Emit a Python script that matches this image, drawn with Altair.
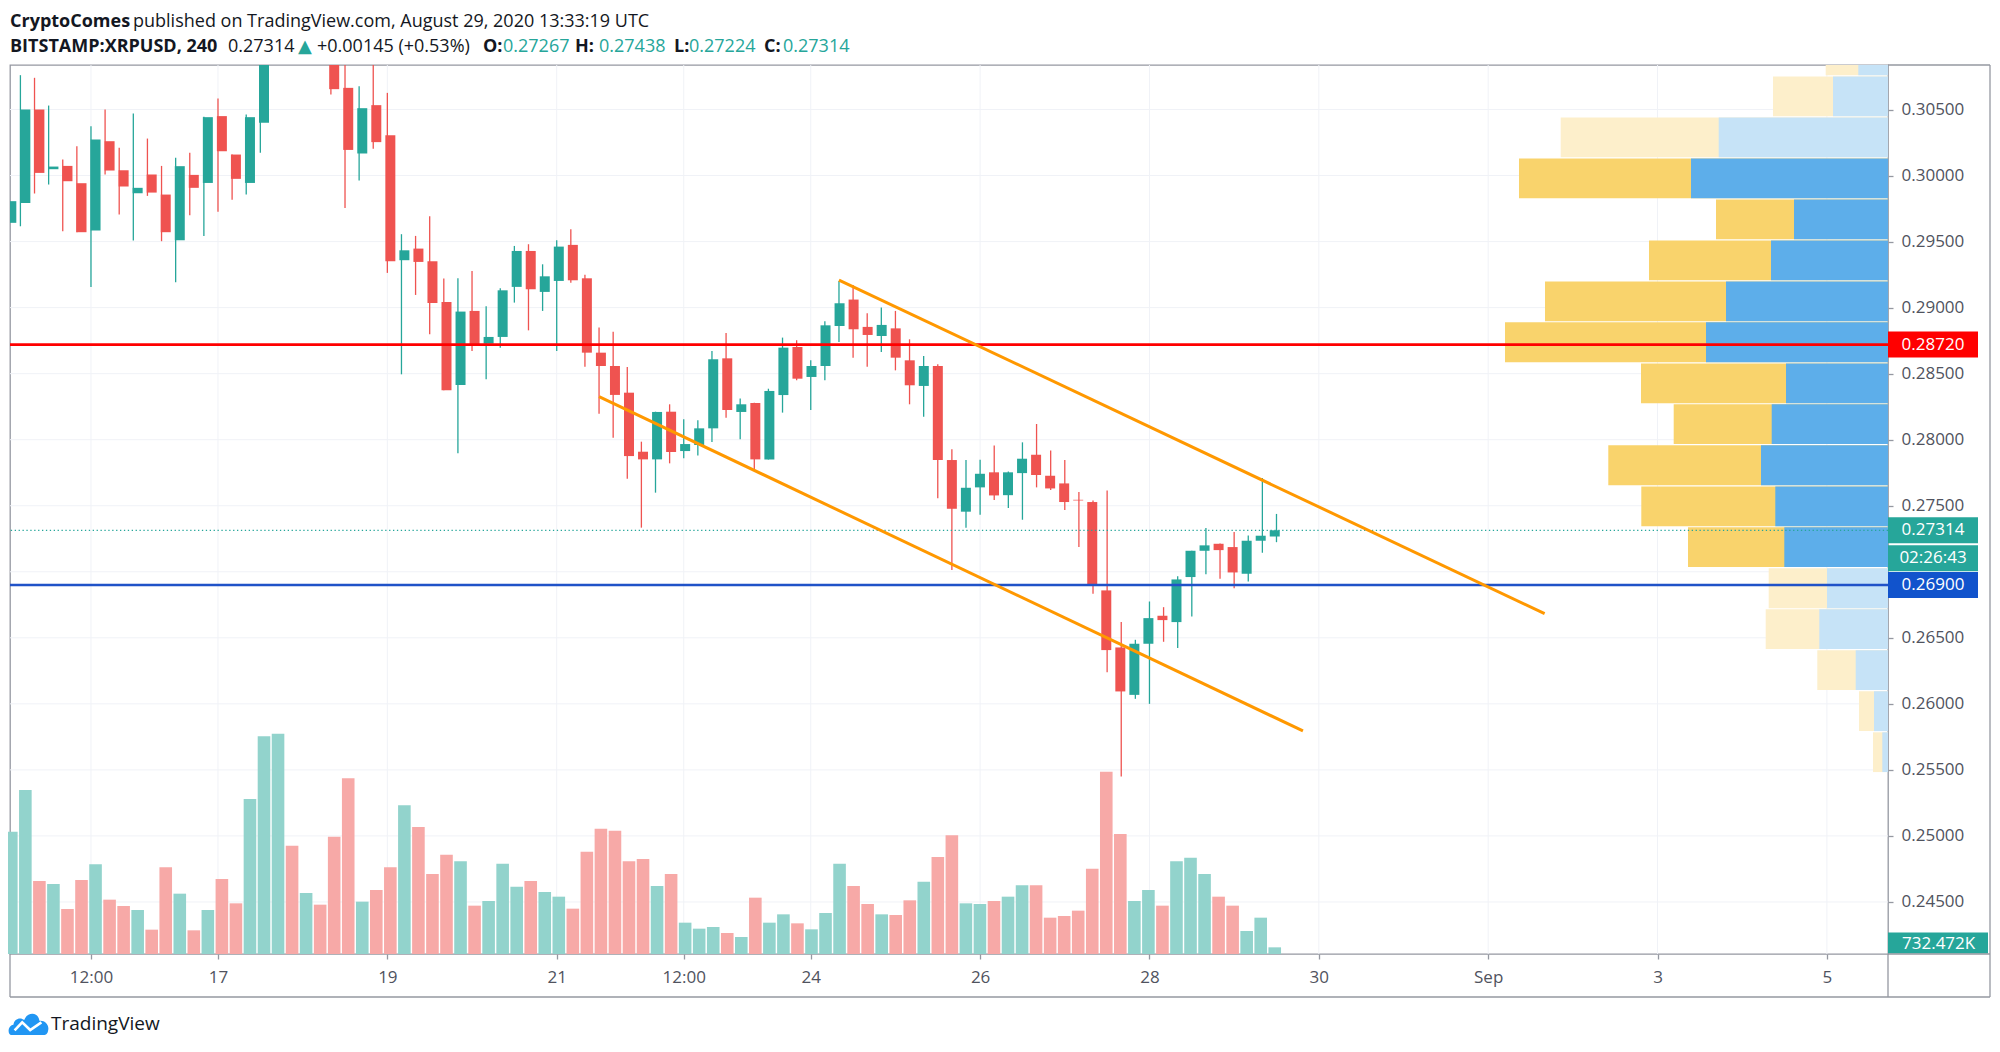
import json
import altair as alt
import pandas as pd

# ---------------- data ----------------
opens = [0.29642, 0.29793, 0.30500, 0.30048, 0.30073, 0.29942, 0.29583, 0.30260, 0.30040, 0.29866,
         0.30008, 0.29856, 0.29510, 0.30005, 0.29944, 0.30450, 0.30159, 0.29944, 0.30399, 0.31150,
         0.31720, 0.31280, 0.31500, 0.31080, 0.30664, 0.30167, 0.30533, 0.30306, 0.29359, 0.29447,
         0.29351, 0.29043, 0.28414, 0.28975, 0.28727, 0.28778, 0.29157, 0.29429, 0.29119, 0.29202,
         0.29475, 0.29222, 0.28659, 0.28558, 0.28356, 0.27909, 0.27851, 0.28212, 0.27914, 0.27960,
         0.28086, 0.28616, 0.28210, 0.28278, 0.27850, 0.28338, 0.28702, 0.28475, 0.28558, 0.28861,
         0.29061, 0.28854, 0.28785, 0.28843, 0.28601, 0.28407, 0.28558, 0.27846, 0.27455, 0.27639,
         0.27753, 0.27580, 0.27747, 0.27886, 0.27727, 0.27669, 0.27545, 0.27528, 0.26859, 0.26427,
         0.26068, 0.26455, 0.26667, 0.26619, 0.26960, 0.27159, 0.27212, 0.27187, 0.26985, 0.27235,
         0.27267]
highs = [0.29900, 0.30760, 0.30740, 0.30530, 0.30121, 0.30222, 0.30374, 0.30500, 0.30210, 0.30470,
         0.30280, 0.30073, 0.30134, 0.30172, 0.30445, 0.30583, 0.30160, 0.30462, 0.31280, 0.31950,
         0.31880, 0.31650, 0.31580, 0.31180, 0.30900, 0.30677, 0.30920, 0.30626, 0.29556, 0.29543,
         0.29692, 0.29220, 0.29222, 0.29278, 0.29010, 0.29146, 0.29467, 0.29480, 0.29328, 0.29510,
         0.29593, 0.29248, 0.28849, 0.28818, 0.28551, 0.27985, 0.28212, 0.28268, 0.28154, 0.28147,
         0.28672, 0.28808, 0.28311, 0.28280, 0.28386, 0.28773, 0.28753, 0.28601, 0.28896, 0.29202,
         0.29172, 0.28957, 0.29000, 0.28975, 0.28760, 0.28634, 0.28571, 0.27927, 0.27846, 0.27848,
         0.27957, 0.27760, 0.27980, 0.28119, 0.27919, 0.27846, 0.27604, 0.27540, 0.27616, 0.26619,
         0.26485, 0.26775, 0.26732, 0.26967, 0.27160, 0.27331, 0.27215, 0.27301, 0.27275, 0.27710,
         0.27438]
lows = [0.29500, 0.29616, 0.29864, 0.29932, 0.29578, 0.29570, 0.29157, 0.30008, 0.29705, 0.29508,
        0.29846, 0.29503, 0.29192, 0.29700, 0.29543, 0.29725, 0.29816, 0.29856, 0.30172, 0.30980,
        0.31050, 0.31120, 0.30950, 0.30614, 0.29755, 0.29962, 0.30202, 0.29263, 0.28495, 0.29096,
        0.28798, 0.28374, 0.27897, 0.28672, 0.28457, 0.28697, 0.29038, 0.28828, 0.28975, 0.28672,
        0.29189, 0.28553, 0.28197, 0.28015, 0.27705, 0.27334, 0.27599, 0.27821, 0.27859, 0.27881,
        0.27982, 0.28167, 0.28003, 0.27763, 0.27850, 0.28205, 0.28450, 0.28225, 0.28450, 0.28740,
        0.28621, 0.28553, 0.28664, 0.28525, 0.28268, 0.28174, 0.27556, 0.27013, 0.27333, 0.27432,
        0.27543, 0.27482, 0.27394, 0.27639, 0.27619, 0.27467, 0.27187, 0.26833, 0.26240, 0.25450,
        0.26038, 0.26000, 0.26470, 0.26422, 0.26662, 0.26982, 0.26947, 0.26876, 0.26927, 0.27144,
        0.27224]
closes = [0.29806, 0.30500, 0.30020, 0.30068, 0.29957, 0.29571, 0.30273, 0.30038, 0.29917, 0.29907,
          0.29871, 0.29571, 0.30071, 0.29907, 0.30442, 0.30184, 0.29975, 0.30442, 0.31150, 0.31720,
          0.31280, 0.31500, 0.31080, 0.30654, 0.30194, 0.30510, 0.30253, 0.29351, 0.29434, 0.29346,
          0.29035, 0.28374, 0.28970, 0.28717, 0.28778, 0.29131, 0.29429, 0.29139, 0.29237, 0.29462,
          0.29207, 0.28659, 0.28558, 0.28339, 0.27876, 0.27851, 0.28210, 0.27907, 0.27967, 0.28086,
          0.28609, 0.28225, 0.28268, 0.27851, 0.28369, 0.28697, 0.28462, 0.28558, 0.28866, 0.29033,
          0.28836, 0.28793, 0.28869, 0.28621, 0.28412, 0.28558, 0.27846, 0.27477, 0.27636, 0.27742,
          0.27578, 0.27753, 0.27856, 0.27732, 0.27631, 0.27528, 0.27540, 0.26902, 0.26407, 0.26094,
          0.26455, 0.26649, 0.26634, 0.26942, 0.27159, 0.27200, 0.27164, 0.26995, 0.27235, 0.27273,
          0.27314]
volumes_k = [13432, 18007, 8015, 7686, 4941, 8125, 9845, 5966, 5270, 4831,
             2672, 9516, 6625, 2599, 4831, 8235, 5563, 17019, 23900, 24193,
             11895, 6698, 5417, 12883, 19288, 5746, 7027, 9516, 16324, 13945,
             8784, 10907, 10175, 5307, 5819, 9919, 7393, 8015, 6808, 6295,
             4978, 11236, 13762, 13542, 10175, 10431, 7466, 8784, 3440, 2782,
             2965, 2306, 1867, 6185, 3440, 4355, 3367, 2708, 4502, 9919,
             7466, 5490, 4355, 4282, 5893, 7942, 10651, 13030, 5563, 5490,
             5819, 6295, 7540, 7540, 3989, 4172, 4758, 9370, 20020, 13176,
             5819, 7027, 5307, 10175, 10577, 8784, 6295, 5307, 2525, 3989,
             732.472]
first_candle = "2020-08-14 12:00"
candle_freq = "4h"

# volume profile rows (price boundaries, up / down volume)
profile_bounds = [0.25479, 0.25789, 0.26100, 0.26410, 0.26720, 0.27031, 0.27341, 0.27651, 0.27962,
                  0.28272, 0.28582, 0.28893, 0.29203, 0.29513, 0.29824, 0.30134, 0.30444, 0.30754,
                  0.31064]
profile_up = [1.14, 2.80, 6.46, 13.74, 12.20, 20.74, 22.54, 25.40, 23.26,
              20.40, 36.40, 32.40, 23.40, 18.80, 39.40, 33.86, 11.00, 5.94]
profile_down = [1.86, 3.00, 7.68, 10.72, 11.66, 19.26, 26.80, 30.54, 19.60,
                29.00, 40.20, 36.20, 24.40, 15.60, 34.40, 31.60, 12.00, 6.52]
profile_value_area = [False, False, False, False, False, True, True, True, True,
                      True, True, True, True, True, True, False, False, False]

# channel lines
upper_t = ["2020-08-24T08:00:00Z", "2020-09-01T16:00:00Z"]
upper_p = [0.29209, 0.26683]
lower_t = ["2020-08-21T12:00:00Z", "2020-08-29T19:30:00Z"]
lower_p = [0.28326, 0.25795]

resistance = 0.28720
support = 0.26900
timer_text = "02:26:43"

# axes
price_grid = [0.245, 0.250, 0.255, 0.260, 0.265, 0.270, 0.275, 0.280, 0.285, 0.290, 0.295, 0.300, 0.305]
price_ticks = [0.245, 0.250, 0.255, 0.260, 0.265, 0.275, 0.280, 0.285, 0.290, 0.295, 0.300, 0.305]
tick_times = ["2020-08-15T12:00:00Z", "2020-08-17T00:00:00Z", "2020-08-19T00:00:00Z",
              "2020-08-21T00:00:00Z", "2020-08-22T12:00:00Z", "2020-08-24T00:00:00Z",
              "2020-08-26T00:00:00Z", "2020-08-28T00:00:00Z", "2020-08-30T00:00:00Z",
              "2020-09-01T00:00:00Z", "2020-09-03T00:00:00Z", "2020-09-05T00:00:00Z"]
tick_labels = ["12:00", "17", "19", "21", "12:00", "24", "26", "28", "30", "Sep", "3", "5"]

# ---------------- styling ----------------
W, H = 1878, 889
TEAL = "#26a69a"
RED = "#ef5350"
VOL_UP = "#92d3cc"
VOL_DN = "#f7a9a7"
GRID = "#f0f2f7"
BORDER = "#9598a1"
LABEL = "#50535e"
TEXT = "#131722"
ORANGE = "#ff9800"
RES_COL = "#ff0000"
SUP_LINE = "#2052c8"
SUP_BOX = "#1153cc"
YEL_D, YEL_L = "#f9d36c", "#fdefcb"
BLU_D, BLU_L = "#5daeea", "#c6e3f7"
FONT = "Open Sans"

X = alt.Scale(type="utc", domain=[
    alt.DateTime(year=2020, month=8, date=14, hours=13, minutes=3, utc=True),
    alt.DateTime(year=2020, month=9, date=5, hours=17, minutes=19, utc=True)])
Y = alt.Scale(domain=[0.24106, 0.30837], zero=False, nice=False)
VOL = alt.Scale(domain=[0, 97612], zero=True, nice=False)
PX = alt.Scale(domain=[0, 375.6], reverse=True, zero=True, nice=False)

times = pd.date_range(first_candle, periods=len(opens), freq=candle_freq)
candles = pd.DataFrame({
    "t": times.strftime("%Y-%m-%dT%H:%M:%SZ"),
    "o": opens, "h": highs, "l": lows, "c": closes, "v": volumes_k,
})
profile = pd.DataFrame({
    "lo": profile_bounds[:-1], "hi": profile_bounds[1:],
    "up": profile_up, "down": profile_down, "va": profile_value_area,
})
channels = pd.DataFrame({
    "t": upper_t + lower_t,
    "p": upper_p + lower_p,
    "id": ["upper", "upper", "lower", "lower"],
})
dummy = pd.DataFrame({"a": [0]})

tick_ms = [int(pd.Timestamp(s).value // 10**6) for s in tick_times]
label_expr = f"{json.dumps(tick_labels)}[indexof({json.dumps(tick_ms)}, time(datum.value))]"

up_cond = "datum.c >= datum.o"

# ---------------- layers ----------------
layers = []

# grid
layers.append(alt.Chart(pd.DataFrame({"p": price_grid})).mark_rule(color=GRID, strokeWidth=1).encode(
    y=alt.Y("p:Q", scale=Y, axis=None)))
layers.append(alt.Chart(pd.DataFrame({"t": tick_times})).mark_rule(color=GRID, strokeWidth=1).encode(
    x=alt.X("t:T", scale=X, axis=None)))

# volume profile (visible range)
layers.append(alt.Chart(profile).transform_calculate(total="datum.up + datum.down", zero="0").mark_rect(
    clip=True, opacity=1, yOffset=-0.6, y2Offset=0.6).encode(
    x=alt.X("total:Q", scale=PX, axis=None), x2="zero:Q",
    y=alt.Y("lo:Q", scale=Y, axis=None), y2="hi:Q",
    color=alt.condition("datum.va", alt.value(YEL_D), alt.value(YEL_L))))
layers.append(alt.Chart(profile).transform_calculate(zero="0").mark_rect(
    clip=True, opacity=1, yOffset=-0.6, y2Offset=0.6).encode(
    x=alt.X("up:Q", scale=PX, axis=None), x2="zero:Q",
    y=alt.Y("lo:Q", scale=Y, axis=None), y2="hi:Q",
    color=alt.condition("datum.va", alt.value(BLU_D), alt.value(BLU_L))))

# volume bars
layers.append(alt.Chart(candles).mark_bar(size=12.6, opacity=1).encode(
    x=alt.X("t:T", scale=X, axis=None),
    y=alt.Y("v:Q", scale=VOL, axis=None),
    color=alt.condition(up_cond, alt.value(VOL_UP), alt.value(VOL_DN))))

# candles: wicks (carry the axes) and bodies
xaxis = alt.Axis(values=tick_ms, labelExpr=label_expr, orient="bottom", grid=False, domain=False,
                 ticks=True, tickColor=BORDER, tickSize=5, tickWidth=1.3, labelFont=FONT,
                 labelFontSize=17, labelColor=LABEL, labelPadding=10, title=None,
                 labelOverlap=False, labelFlush=False)
yaxis = alt.Axis(values=price_ticks, format=".5f", orient="right", grid=False, domain=False,
                 ticks=True, tickColor=BORDER, tickSize=5, tickWidth=1.3, labelFont=FONT,
                 labelFontSize=17, labelColor=LABEL, labelPadding=8, title=None,
                 labelOverlap=False, labelFlush=False)
layers.append(alt.Chart(candles).mark_rule(strokeWidth=1.3, clip=True).encode(
    x=alt.X("t:T", scale=X, axis=xaxis),
    y=alt.Y("l:Q", scale=Y, axis=yaxis), y2="h:Q",
    color=alt.condition(up_cond, alt.value(TEAL), alt.value(RED))))
layers.append(alt.Chart(candles).mark_bar(size=10, clip=True, opacity=1).encode(
    x=alt.X("t:T", scale=X, axis=None),
    y=alt.Y("o:Q", scale=Y, axis=None), y2="c:Q",
    color=alt.condition(up_cond, alt.value(TEAL), alt.value(RED))))

# horizontal levels
layers.append(alt.Chart(dummy).mark_rule(color=TEAL, strokeWidth=1.3, strokeDash=[1.3, 2.6]).encode(
    y=alt.Y(datum=closes[-1], scale=Y, axis=None)))
layers.append(alt.Chart(dummy).mark_rule(color=RES_COL, strokeWidth=2.6).encode(
    y=alt.Y(datum=resistance, scale=Y, axis=None)))
layers.append(alt.Chart(dummy).mark_rule(color=SUP_LINE, strokeWidth=2.4).encode(
    y=alt.Y(datum=support, scale=Y, axis=None)))

# channel
layers.append(alt.Chart(channels).mark_line(color=ORANGE, strokeWidth=3, clip=True).encode(
    x=alt.X("t:T", scale=X, axis=None),
    y=alt.Y("p:Q", scale=Y, axis=None),
    detail="id:N"))

# price label boxes on the right scale
BOX_X = W + 45
for price, txt, col, off in [(resistance, f"{resistance:.5f}", RES_COL, 0),
                             (closes[-1], f"{closes[-1]:.5f}", TEAL, 0),
                             (closes[-1], timer_text, TEAL, 28),
                             (support, f"{support:.5f}", SUP_BOX, 0)]:
    layers.append(alt.Chart(dummy).mark_tick(orient="vertical", size=26, thickness=90, color=col,
                                              opacity=1, yOffset=off).encode(
        x=alt.value(BOX_X), y=alt.Y(datum=price, scale=Y, axis=None)))
    layers.append(alt.Chart(dummy).mark_text(text=txt, color="white", font=FONT, fontSize=17,
                                              align="center", baseline="middle", yOffset=off, dx=0).encode(
        x=alt.value(BOX_X), y=alt.Y(datum=price, scale=Y, axis=None)))

# volume label box
layers.append(alt.Chart(dummy).mark_tick(orient="vertical", size=21, thickness=100, color=TEAL, opacity=1).encode(
    x=alt.value(W + 50), y=alt.value(H - 11)))
layers.append(alt.Chart(dummy).mark_text(text=f"{volumes_k[-1]:.3f}K", color="white", font=FONT, fontSize=17,
                                          align="left", baseline="middle").encode(
    x=alt.value(W + 14), y=alt.value(H - 10)))

# frame
def frame(x, x2, y, y2):
    return alt.Chart(dummy).mark_rule(color=BORDER, strokeWidth=1.3).encode(
        x=alt.value(x), x2=alt.value(x2), y=alt.value(y), y2=alt.value(y2))

layers += [frame(W, W + 102, 0, 0), frame(W + 102, W + 102, 0, H + 43), frame(0, W + 102, H + 43, H + 43),
           frame(0, 0, H, H + 43), frame(W, W, H, H + 43), frame(W, W + 102, H, H)]

# header
line1 = [("CryptoComes", 0, "bold", TEXT, FONT),
         ("published on TradingView.com, August 29, 2020 13:33:19 UTC", 123, "normal", TEXT, FONT)]
line2 = [("BITSTAMP:XRPUSD, 240", 0, "bold", TEXT, FONT),
         ("0.27314", 218, "normal", TEXT, FONT),
         ("▲", 288, "normal", TEAL, "DejaVu Sans"),
         ("+0.00145 (+0.53%)", 307, "normal", TEXT, FONT),
         ("O:", 473, "bold", TEXT, FONT), ("0.27267", 493, "normal", TEAL, FONT),
         ("H:", 565, "bold", TEXT, FONT), ("0.27438", 589, "normal", TEAL, FONT),
         ("L:", 664, "bold", TEXT, FONT), ("0.27224", 679, "normal", TEAL, FONT),
         ("C:", 754, "bold", TEXT, FONT), ("0.27314", 773, "normal", TEAL, FONT)]
for seg_list, ypos in [(line1, -43), (line2, -18)]:
    for txt, xpos, weight, col, fnt in seg_list:
        layers.append(alt.Chart(dummy).mark_text(text=txt, align="left", baseline="middle", font=fnt,
                                                  fontSize=18, fontWeight=weight, color=col).encode(
            x=alt.value(xpos), y=alt.value(ypos)))

# TradingView logo
CLOUD = ("M -0.88 0.55 C -1.08 0.55 -1.08 0.08 -0.78 0.04 C -0.74 -0.28 -0.42 -0.36 -0.24 -0.2 "
         "C -0.08 -0.62 0.46 -0.62 0.52 -0.16 C 0.78 -0.2 1.02 0.04 0.96 0.3 C 0.94 0.5 0.84 0.55 0.74 0.55 Z")
ZIG = "M -0.72 0.32 L -0.34 -0.08 L 0.06 0.3 L 0.62 -0.08"
layers.append(alt.Chart(dummy).mark_point(shape=CLOUD, filled=True, color="#2196f3", opacity=1, size=1600).encode(
    x=alt.value(19), y=alt.value(959)))
layers.append(alt.Chart(dummy).mark_point(shape=ZIG, filled=False, color="white", strokeWidth=2.6, opacity=1,
                                           size=1600).encode(x=alt.value(19), y=alt.value(959)))
layers.append(alt.Chart(dummy).mark_text(text="TradingView", align="left", baseline="middle", font=FONT,
                                          fontSize=19, color=TEXT).encode(x=alt.value(41), y=alt.value(959)))

chart = alt.layer(*layers).resolve_scale(x="independent", y="independent").properties(
    width=W, height=H,
    padding={"left": 2, "top": 57, "right": 104, "bottom": 88},
    autosize=alt.AutoSizeParams(type="none"),
    background="white",
).configure_view(stroke=BORDER, strokeWidth=1.3)

chart.save("out.html", embed_options={"renderer": "svg", "actions": False})
